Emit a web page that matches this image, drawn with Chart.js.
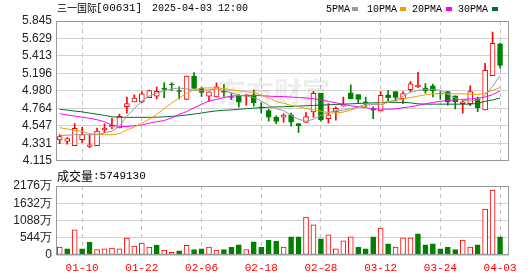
<!DOCTYPE html>
<html>
<head>
<meta charset="utf-8">
<script src="https://cdn.jsdelivr.net/npm/chart.js@4.4.1/dist/chart.umd.min.js"></script>
<style>
  html, body { margin: 0; padding: 0; background: #fff; }
  #wrap { position: relative; width: 530px; height: 276px; overflow: hidden; }
  #kline { position: absolute; left: 0; top: 0; }
  #vol { position: absolute; left: 0; top: 168px; }
</style>
</head>
<body>
<div id="wrap">
  <canvas id="kline" width="530" height="172"></canvas>
  <canvas id="vol" width="530" height="108"></canvas>
</div>
<script>
// --- DADOS ---
const dates = ['01-07','01-08','01-09','01-10','01-13','01-14','01-15','01-16','01-17','01-20',
  '01-21','01-22','01-23','01-24','01-27','01-28','02-03','02-04','02-05','02-06',
  '02-07','02-10','02-11','02-12','02-13','02-14','02-17','02-18','02-19','02-20',
  '02-21','02-24','02-25','02-26','02-27','02-28','03-03','03-04','03-05','03-06',
  '03-07','03-10','03-11','03-12','03-13','03-14','03-17','03-18','03-19','03-20',
  '03-21','03-24','03-25','03-26','03-27','03-28','03-31','04-01','04-02','04-03'];

const openArr = [4.374,4.354,4.303,4.378,4.294,4.303,4.497,4.533,4.521,4.784,
  4.844,4.844,4.895,4.915,5.015,5.062,4.984,4.876,5.163,5.011,
  4.915,4.904,4.975,4.907,4.915,4.915,4.931,4.784,4.736,4.656,
  4.656,4.685,4.577,4.589,4.721,4.951,4.637,4.721,4.792,4.955,
  4.936,4.844,4.752,4.733,4.931,4.972,4.883,4.996,5.031,5.019,
  5.043,4.951,4.972,4.919,4.823,4.823,4.876,4.745,5.170,5.561];
const highArr = [4.441,4.402,4.577,4.530,4.434,4.521,4.573,4.641,4.692,4.904,
  4.931,4.972,4.991,5.027,5.083,5.083,5.031,5.163,5.206,5.023,
  4.967,5.079,5.059,4.948,4.936,4.935,4.991,4.832,4.752,4.673,
  4.697,4.704,4.577,4.712,4.975,4.951,4.823,4.784,4.904,5.055,
  4.936,4.904,4.784,4.972,4.984,4.972,4.972,5.095,5.211,5.071,
  5.063,4.972,4.972,4.919,4.864,5.043,4.904,5.322,5.708,5.573];
const lowArr = [4.326,4.322,4.303,4.338,4.279,4.303,4.465,4.513,4.521,4.704,
  4.844,4.835,4.895,4.880,4.895,4.984,4.880,4.876,5.011,4.911,
  4.852,4.904,4.911,4.871,4.780,4.804,4.792,4.704,4.605,4.573,
  4.593,4.545,4.465,4.589,4.653,4.605,4.585,4.617,4.792,4.883,
  4.823,4.784,4.637,4.733,4.844,4.852,4.823,4.972,5.019,4.951,
  4.904,4.876,4.804,4.757,4.704,4.796,4.724,4.745,5.170,5.262];
const closeArr = [4.414,4.390,4.518,4.438,4.314,4.482,4.521,4.553,4.665,4.823,
  4.892,4.943,4.984,4.975,4.999,5.055,4.975,5.163,5.011,4.960,
  4.967,5.031,4.963,4.900,4.840,4.931,4.835,4.772,4.656,4.601,
  4.680,4.593,4.549,4.661,4.951,4.625,4.685,4.764,4.816,4.883,
  4.876,4.832,4.740,4.924,4.895,4.900,4.948,5.067,5.051,4.979,
  4.979,4.943,4.844,4.844,4.844,4.972,4.772,5.234,5.569,5.294];

const ma5 = [4.426,4.432,4.438,4.438,4.438,4.438,4.461,4.482,4.545,4.665,
  4.760,4.856,4.915,4.951,4.981,5.005,5.015,5.005,4.987,4.984,
  4.993,5.003,4.987,4.957,4.927,4.915,4.898,4.856,4.802,4.760,
  4.736,4.677,4.629,4.605,4.629,4.677,4.712,4.736,4.742,4.760,
  4.778,4.820,4.814,4.808,4.838,4.868,4.915,4.963,4.987,4.999,
  4.999,4.987,4.939,4.892,4.864,4.856,4.868,4.927,5.035,5.170];
const ma10 = [4.525,4.509,4.491,4.479,4.450,4.444,4.438,4.438,4.450,4.497,
  4.533,4.581,4.629,4.689,4.760,4.832,4.892,4.951,4.993,5.015,
  5.017,5.015,5.011,4.993,4.981,4.969,4.963,4.927,4.892,4.850,
  4.826,4.802,4.784,4.760,4.745,4.730,4.710,4.706,4.718,4.742,
  4.778,4.796,4.814,4.832,4.850,4.862,4.880,4.898,4.915,4.933,
  4.943,4.945,4.945,4.945,4.943,4.939,4.933,4.951,4.987,5.023];
const ma20 = [4.697,4.682,4.668,4.656,4.641,4.623,4.599,4.557,4.539,4.539,
  4.549,4.557,4.581,4.599,4.613,4.647,4.689,4.724,4.772,4.814,
  4.856,4.874,4.898,4.915,4.921,4.924,4.924,4.921,4.915,4.910,
  4.910,4.904,4.898,4.892,4.883,4.868,4.850,4.832,4.814,4.796,
  4.784,4.772,4.760,4.754,4.754,4.757,4.772,4.784,4.802,4.820,
  4.838,4.850,4.862,4.868,4.876,4.880,4.892,4.904,4.933,4.979];
const ma30 = [4.752,4.742,4.730,4.721,4.706,4.691,4.677,4.659,4.653,4.653,
  4.653,4.653,4.653,4.655,4.659,4.665,4.671,4.682,4.694,4.706,
  4.721,4.733,4.740,4.745,4.752,4.760,4.766,4.772,4.778,4.782,
  4.784,4.788,4.792,4.796,4.800,4.804,4.808,4.812,4.816,4.820,
  4.824,4.828,4.832,4.835,4.838,4.838,4.838,4.832,4.820,4.816,
  4.816,4.816,4.816,4.816,4.816,4.816,4.826,4.850,4.868,4.892];

// volume in 万 shares, and whether the bar is drawn as "up" (red hollow)
const volume = [252,198,796,198,409,167,198,220,198,535,
  283,377,252,315,157,88,135,302,167,198,
  252,157,167,239,324,167,418,239,459,428,
  252,576,576,1195,953,513,638,198,450,576,
  239,198,576,849,355,252,544,544,670,324,
  355,198,239,167,472,252,324,1447,2050,575];
const volUp = [1,0,1,0,0,1,1,1,1,1, 1,1,1,0,1,1,0,1,0,0,
  1,1,0,0,0,1,0,0,0,0, 1,0,0,1,1,0,1,1,1,1,
  0,0,0,1,0,1,1,1,0,0, 0,0,0,0,1,1,0,1,1,0];

const priceTicks = [4.115,4.331,4.547,4.764,4.980,5.196,5.413,5.629,5.845];
const volTicks = [0,544,1088,1632,2176];
const labelIdx = [3,11,19,27,35,43,51,59];

// --- CORES ---
const RED = '#ff0000';
const GREEN = '#008000';
const MA_COLORS = ['#999999', '#f0a000', '#ff00ff', '#006f2c'];
const BORDER = '#999999';
const GRID = '#d2d2d2';

const isUp = i => closeArr[i] >= openArr[i];

// borda do chartArea
const frame = {
  id: 'frame',
  afterDraw(chart) {
    const { ctx, chartArea: a } = chart;
    ctx.save();
    ctx.strokeStyle = BORDER;
    ctx.lineWidth = 1;
    ctx.strokeRect(Math.round(a.left) + 0.5, Math.round(a.top) + 0.5,
      Math.round(a.right - a.left) - 1, Math.round(a.bottom - a.top) - 1);
    ctx.restore();
  }
};

// cabeçalho, legenda e marca d'água do painel de preço
const header = {
  id: 'header',
  beforeDatasetsDraw(chart) {
    const ctx = chart.ctx;
    ctx.save();
    ctx.fillStyle = 'rgba(0,0,0,0.07)';
    ctx.font = 'bold 28px "Noto Sans CJK SC"';
    ctx.textBaseline = 'middle';
    ctx.fillText('东方财富', 218, 92);
    ctx.restore();
  },
  afterDraw(chart) {
    const ctx = chart.ctx;
    ctx.save();
    ctx.fillStyle = '#000';
    ctx.textBaseline = 'middle';
    ctx.font = '10px "Noto Sans CJK SC"';
    ctx.fillText('三一国际', 57, 8.5);
    ctx.font = '11px "Liberation Mono"';
    ctx.fillText('[00631]', 96, 8.5);
    ctx.font = '10px "Liberation Mono"';
    ctx.fillText('2025-04-03 12:00', 152, 8.5);

    const items = [['5PMA', 326, 352], ['10PMA', 367, 400], ['20PMA', 412, 446], ['30PMA', 458, 492]];
    items.forEach((it, k) => {
      ctx.fillStyle = '#000';
      ctx.fillText(it[0], it[1], 9);
      ctx.fillStyle = MA_COLORS[k];
      ctx.fillRect(it[2], 7, 6, 4);
    });
    ctx.restore();
  }
};

const volHeader = {
  id: 'volHeader',
  afterDraw(chart) {
    const ctx = chart.ctx;
    ctx.save();
    ctx.fillStyle = '#000';
    ctx.textBaseline = 'middle';
    ctx.font = '12px "Noto Sans CJK SC"';
    ctx.fillText('成交量', 57, 8);
    ctx.font = '11px "Liberation Mono"';
    ctx.fillText(':5749130', 93, 8);
    ctx.restore();
  }
};

const xCommon = {
  type: 'linear',
  min: -0.5,
  max: 60.2,
  offset: false,
  afterBuildTicks: s => { s.ticks = labelIdx.map(v => ({ value: v })); },
  grid: { display: true, drawOnChartArea: true, offset: false, color: '#c0c0c0', lineWidth: 1, drawTicks: false },
  border: { display: false, dash: [4, 4] }
};

const yFont = { family: '"Liberation Sans"', size: 12 };

// --- GRÁFICO DE VELAS ---
new Chart(document.getElementById('kline'), {
  type: 'bar',
  data: {
    datasets: [
      ...[ma5, ma10, ma20, ma30].map((arr, k) => ({
        type: 'line',
        data: arr.map((v, i) => ({ x: i, y: v })),
        borderColor: MA_COLORS[k],
        borderWidth: 1,
        pointRadius: 0,
        tension: 0,
        order: 0
      })),
      {
        // corpos
        data: openArr.map((o, i) => ({ x: i, y: [o, closeArr[i]] })),
        backgroundColor: openArr.map((o, i) => isUp(i) ? '#ffffff' : GREEN),
        borderColor: openArr.map((o, i) => isUp(i) ? RED : GREEN),
        borderWidth: 1,
        borderSkipped: false,
        barThickness: 5,
        grouped: false,
        order: 1
      },
      {
        // sombras
        data: lowArr.map((l, i) => ({ x: i, y: [l, highArr[i]] })),
        backgroundColor: openArr.map((o, i) => isUp(i) ? RED : GREEN),
        borderWidth: 0,
        barThickness: 1,
        grouped: false,
        order: 2
      }
    ]
  },
  options: {
    responsive: false,
    animation: false,
    devicePixelRatio: 1,
    layout: { padding: { top: 21, right: 21, bottom: 6, left: 0 } },
    plugins: { legend: { display: false }, tooltip: { enabled: false } },
    scales: {
      x: { ...xCommon, ticks: { display: false }, afterFit: s => { s.height = 0; } },
      y: {
        min: priceTicks[0],
        max: priceTicks[priceTicks.length - 1],
        afterBuildTicks: s => { s.ticks = priceTicks.map(v => ({ value: v })); },
        afterFit: s => { s.width = 56; },
        ticks: { autoSkip: false, padding: 4, color: '#222', font: yFont, callback: v => v.toFixed(3) },
        grid: { color: GRID, drawTicks: false },
        border: { display: false }
      }
    }
  },
  plugins: [header, frame]
});

// --- GRÁFICO DE VOLUME ---
new Chart(document.getElementById('vol'), {
  type: 'bar',
  data: {
    datasets: [{
      data: volume.map((v, i) => ({ x: i, y: v })),
      backgroundColor: volUp.map(u => u ? '#ffffff' : GREEN),
      borderColor: volUp.map(u => u ? RED : GREEN),
      borderWidth: 1,
      borderSkipped: false,
      barThickness: 5
    }]
  },
  options: {
    responsive: false,
    animation: false,
    devicePixelRatio: 1,
    layout: { padding: { top: 18, right: 21, bottom: 0, left: 0 } },
    plugins: { legend: { display: false }, tooltip: { enabled: false } },
    scales: {
      x: {
        ...xCommon,
        afterFit: s => { s.height = 21; },
        ticks: {
          autoSkip: false, maxRotation: 0, padding: 6, color: RED,
          font: { family: '"Liberation Mono"', size: 11 },
          callback: v => dates[v]
        }
      },
      y: {
        min: 0,
        max: volTicks[volTicks.length - 1],
        afterBuildTicks: s => { s.ticks = volTicks.map(v => ({ value: v })); },
        afterFit: s => { s.width = 56; },
        ticks: { autoSkip: false, padding: 4, color: '#222', font: yFont, callback: v => v === 0 ? '0' : v + '万' },
        grid: { color: GRID, drawTicks: false },
        border: { display: false }
      }
    }
  },
  plugins: [volHeader, frame]
});
</script>
</body>
</html>
